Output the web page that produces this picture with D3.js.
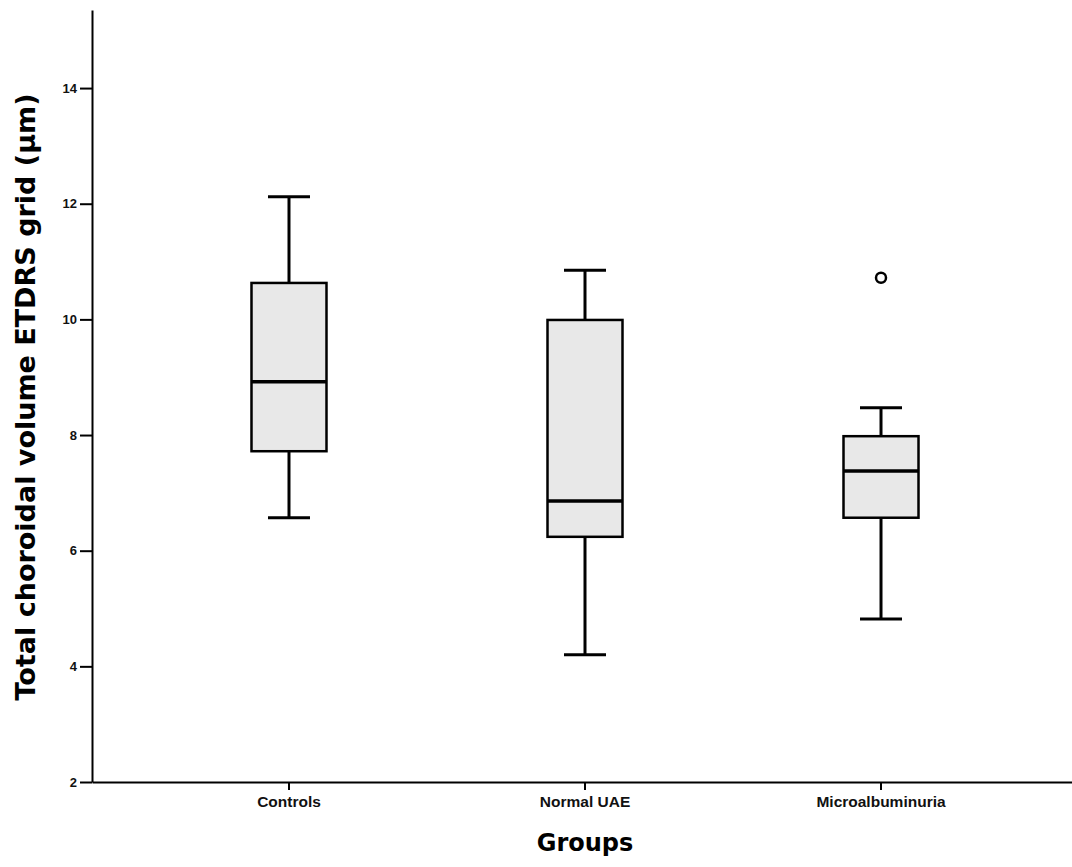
<!DOCTYPE html>
<html>
<head>
    <meta charset="utf-8">
    <style>
        body { margin: 0; background: #fff; }
        svg { display: block; font-family: "DejaVu Sans", sans-serif; }
        .axis .domain { stroke: #000; stroke-width: 2px; }
        .axis .tick line { stroke: #000; stroke-width: 2px; }
        .axis .tick text { fill: #111; font-weight: bold; }
    </style>
</head>
<body>
<svg width="1072" height="867"></svg>

<script src="https://d3js.org/d3.v7.min.js"></script>
<script>
    let width = 1072
    let height = 867
    let margin = { top: 10, right: -6, bottom: 85, left: 92 }

    // groups and their box summaries
    let groups = ["Controls", "Normal UAE", "Microalbuminuria"]
    let whiskerLow = [6.57, 4.2, 4.82]
    let q1 = [7.72, 6.24, 6.57]
    let median = [8.92, 6.86, 7.38]
    let q3 = [10.63, 9.99, 7.98]
    let whiskerHigh = [12.12, 10.85, 8.47]
    let outliers = [[], [], [10.72]]
    let yTicks = [2, 4, 6, 8, 10, 12, 14]

    let data = groups.map((g, i) => ({
        group: g, lo: whiskerLow[i], q1: q1[i], med: median[i],
        q3: q3[i], hi: whiskerHigh[i], out: outliers[i]
    }))

    let svg = d3.select("svg")

    // the x axis line runs off the right edge, as in the original
    let x = d3.scaleBand()
        .domain(groups)
        .range([margin.left, width - margin.right])
        .paddingInner(0)
        .paddingOuter(0.1655)

    let y = d3.scaleLinear()
        .domain([2, 15.35])
        .range([height - margin.bottom, margin.top])

    // axes
    svg.append("g")
        .attr("class", "x axis")
        .attr("transform", `translate(0,${height - margin.bottom})`)
        .call(d3.axisBottom(x).tickSize(8).tickPadding(6).tickSizeOuter(0))
        .call(g => g.selectAll(".tick text").style("font-size", "15.5px"))

    svg.append("g")
        .attr("class", "y axis")
        .attr("transform", `translate(${margin.left},0)`)
        .call(d3.axisLeft(y).tickValues(yTicks).tickSize(12).tickPadding(3).tickSizeOuter(0))
        .call(g => g.selectAll(".tick text").style("font-size", "13px"))

    let boxW = 75
    let capW = 42

    let box = svg.append("g")
        .selectAll("g")
        .data(data)
        .join("g")
        .attr("transform", d => `translate(${x(d.group) + x.bandwidth() / 2},0)`)

    // whiskers
    box.append("line")
        .attr("y1", d => y(d.lo)).attr("y2", d => y(d.hi))
        .attr("stroke", "#000").attr("stroke-width", 3)
    box.append("line")
        .attr("x1", -capW / 2).attr("x2", capW / 2)
        .attr("y1", d => y(d.hi)).attr("y2", d => y(d.hi))
        .attr("stroke", "#000").attr("stroke-width", 3)
    box.append("line")
        .attr("x1", -capW / 2).attr("x2", capW / 2)
        .attr("y1", d => y(d.lo)).attr("y2", d => y(d.lo))
        .attr("stroke", "#000").attr("stroke-width", 3)

    // boxes
    box.append("rect")
        .attr("x", -boxW / 2)
        .attr("width", boxW)
        .attr("y", d => y(d.q3))
        .attr("height", d => y(d.q1) - y(d.q3))
        .attr("fill", "#e8e8e8")
        .attr("stroke", "#000")
        .attr("stroke-width", 2.5)

    box.append("line")
        .attr("x1", -boxW / 2).attr("x2", boxW / 2)
        .attr("y1", d => y(d.med)).attr("y2", d => y(d.med))
        .attr("stroke", "#000").attr("stroke-width", 3.5)

    // outliers
    box.selectAll("circle")
        .data(d => d.out)
        .join("circle")
        .attr("cy", d => y(d))
        .attr("r", 5)
        .attr("fill", "#fff")
        .attr("stroke", "#000")
        .attr("stroke-width", 2.5)

    // axis titles
    svg.append("text")
        .attr("x", x("Normal UAE") + x.bandwidth() / 2)
        .attr("y", 851)
        .attr("text-anchor", "middle")
        .style("font-size", "24px")
        .style("font-weight", "bold")
        .text("Groups")

    svg.append("text")
        .attr("transform", `translate(35,397) rotate(-90)`)
        .attr("text-anchor", "middle")
        .style("font-size", "27px")
        .style("font-weight", "bold")
        .text("Total choroidal volume ETDRS grid (μm)")
</script>
</body>
</html>
